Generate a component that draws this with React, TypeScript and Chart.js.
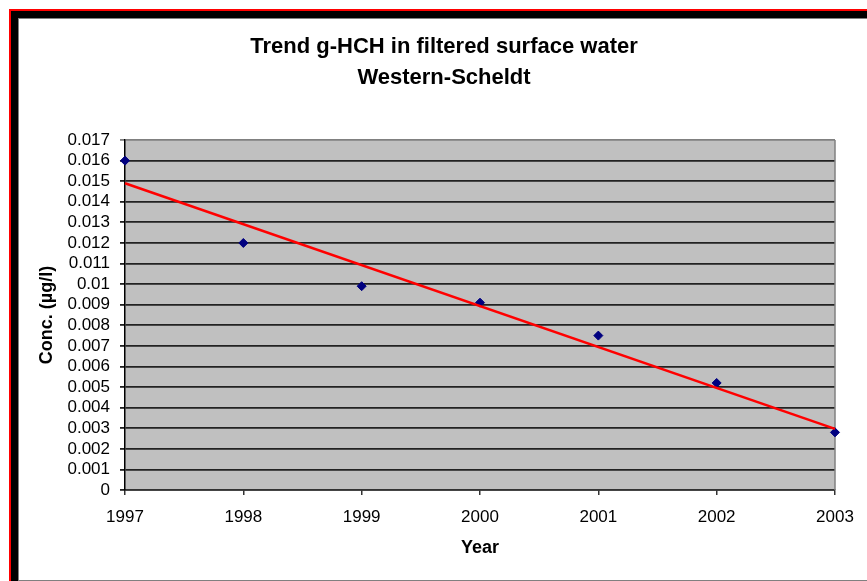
import React, { useEffect, useRef } from "react";
import { Chart, registerables } from "chart.js";

Chart.register(...registerables);

const years = [1997, 1998, 1999, 2000, 2001, 2002, 2003];
const concentrations = [0.016, 0.012, 0.0099, 0.0091, 0.0075, 0.0052, 0.0028];
const trendYears = [1997, 2003];
const trendValues = [0.0149, 0.00297];
const titleLines = ["Trend g-HCH in filtered surface water", "Western-Scheldt"];
const yAxisTitle = "Conc. (\u00b5g/l)";
const xAxisTitle = "Year";
const yMin = 0;
const yMax = 0.017;
const yStep = 0.001;

const FONT = "'Liberation Sans', Arial, Helvetica, sans-serif";

const plotBackground = {
  id: "plotBackground",
  beforeDraw(chart: any) {
    const { ctx, chartArea } = chart;
    ctx.save();
    ctx.fillStyle = "#c0c0c0";
    ctx.fillRect(chartArea.left, chartArea.top, chartArea.right - chartArea.left, chartArea.bottom - chartArea.top);
    ctx.restore();
  },
  beforeDatasetsDraw(chart: any) {
    const { ctx, chartArea } = chart;
    ctx.save();
    ctx.strokeStyle = "#808080";
    ctx.lineWidth = 1.5;
    ctx.beginPath();
    ctx.moveTo(chartArea.right, chartArea.top);
    ctx.lineTo(chartArea.right, chartArea.bottom);
    ctx.stroke();
    ctx.restore();
  },
};

export default function App() {
  const canvasRef = useRef<HTMLCanvasElement | null>(null);

  useEffect(() => {
    if (!canvasRef.current) return;
    const chart = new Chart(canvasRef.current, {
      type: "scatter",
      data: {
        datasets: [
          {
            type: "line",
            label: "Trend",
            data: trendYears.map((x, i) => ({ x, y: trendValues[i] })),
            borderColor: "#ff0000",
            borderWidth: 2.5,
            pointRadius: 0,
            showLine: true,
            fill: false,
            clip: false,
          } as any,
          {
            label: "g-HCH",
            data: years.map((x, i) => ({ x, y: concentrations[i] })),
            pointStyle: "rectRot",
            pointRadius: 4.5,
            backgroundColor: "#000080",
            borderColor: "#000080",
            borderWidth: 1,
            clip: false,
          } as any,
        ],
      },
      options: {
        responsive: false,
        animation: false,
        layout: { padding: { left: 34, right: 32, top: 0, bottom: 0 } },
        plugins: {
          legend: { display: false },
          tooltip: { enabled: false },
          title: {
            display: true,
            text: titleLines,
            color: "#000",
            font: { family: FONT, size: 22, weight: "bold", lineHeight: 1.41 },
            padding: { top: 12.5, bottom: 46.5 },
          },
        },
        scales: {
          x: {
            type: "linear",
            min: years[0],
            max: years[years.length - 1],
            afterFit: (scale: any) => {
              scale.height = 90;
            },
            ticks: {
              stepSize: 1,
              autoSkip: false,
              color: "#000",
              padding: 12,
              font: { family: FONT, size: 17 },
              callback: (v: any) => String(v),
            },
            grid: {
              drawOnChartArea: false,
              drawTicks: true,
              tickLength: 5,
              color: "#333",
              lineWidth: 1.5,
            },
            border: { display: true, color: "#333", width: 1.5 },
            title: {
              display: true,
              text: xAxisTitle,
              color: "#000",
              font: { family: FONT, size: 18, weight: "bold" },
              padding: { top: 0, bottom: 21 },
            },
          },
          y: {
            type: "linear",
            min: yMin,
            max: yMax,
            afterFit: (scale: any) => {
              scale.width = 72;
            },
            ticks: {
              stepSize: yStep,
              maxTicksLimit: 40,
              autoSkip: false,
              color: "#000",
              padding: 10,
              font: { family: FONT, size: 17 },
              callback: (v: any) => String(Number(Number(v).toFixed(3))),
            },
            grid: {
              drawTicks: true,
              tickLength: 5,
              color: (c: any) =>
                c.tick && Math.abs(c.tick.value - yMax) < 1e-9 ? "#808080" : "#222",
              lineWidth: 1.8,
            },
            border: { display: true, color: "#000", width: 1.5 },
            title: {
              display: true,
              text: yAxisTitle,
              color: "#000",
              font: { family: FONT, size: 18, weight: "bold" },
              padding: { top: -16.3, bottom: 0 },
            },
          },
        },
      },
      plugins: [plotBackground],
    });
    return () => chart.destroy();
  }, []);

  return (
    <div
      style={{
        position: "fixed",
        left: 0,
        top: 0,
        width: 867,
        height: 581,
        overflow: "hidden",
        background: "#fff",
      }}
    >
      <div
        style={{
          position: "absolute",
          left: 9,
          top: 9,
          borderLeft: "2px solid #ff0000",
          borderTop: "2px solid #ff0000",
        }}
      >
        <div style={{ borderLeft: "7px solid #000", borderTop: "7px solid #000" }}>
          <div
            style={{
              borderLeft: "1px solid #808080",
              borderTop: "1px solid #808080",
              borderBottom: "1px solid #808080",
              background: "#fff",
              width: 848,
              height: 561,
            }}
          >
            <canvas ref={canvasRef} width={848} height={561} style={{ display: "block" }} />
          </div>
        </div>
      </div>
    </div>
  );
}
